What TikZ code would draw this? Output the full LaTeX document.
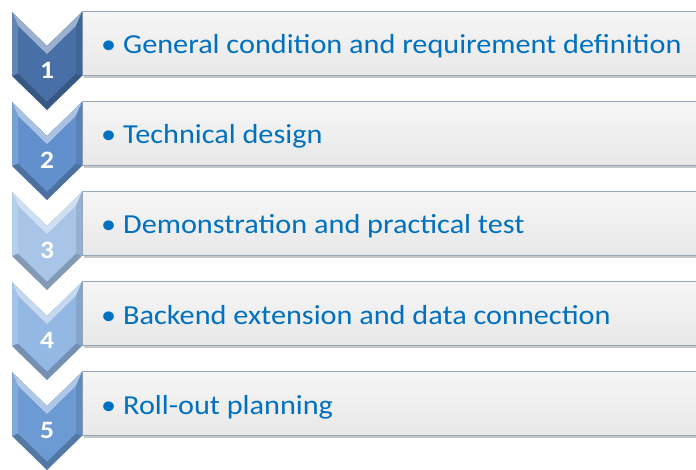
\documentclass[tikz,border=0pt]{standalone}
\usepackage{fontspec}
\setmainfont{Carlito}
\definecolor{txt}{RGB}{0,112,192}
\definecolor{cA}{RGB}{72,112,166}
\definecolor{cB}{RGB}{98,144,204}
\definecolor{cC}{RGB}{168,197,232}
\definecolor{cD}{RGB}{148,184,228}
\definecolor{cE}{RGB}{108,154,210}
\definecolor{boxtop}{RGB}{246,246,246}
\definecolor{boxbot}{RGB}{232,232,232}
\definecolor{boxline}{RGB}{150,166,186}
\begin{document}
\begin{tikzpicture}[x=1pt,y=-1pt]
\tikzset{
  boxshape/.style={rectangle, minimum width=640pt, minimum height=64pt, anchor=north west, inner sep=0pt,
    top color=boxtop, bottom color=boxbot, draw=boxline, line width=0.9pt},
  boxshadow/.style={fill=black!22, draw=none},
  itemtext/.style={anchor=base west, text=txt, font=\fontsize{27.5}{32}\selectfont, inner sep=0pt},
  numtext/.style={anchor=base, text=white, font=\bfseries\fontsize{25}{30}\selectfont, inner sep=0pt},
}
\useasboundingbox (0,0) rectangle (696,470);
\clip (0,0) rectangle (696,470);
\foreach \i/\col/\lab/\txt in {0/cA/1/General condition and requirement definition,
                               1/cB/2/Technical design,
                               2/cC/3/Demonstration and practical test,
                               3/cD/4/Backend extension and data connection,
                               4/cE/5/Roll-out planning}{
  % box with shadow
  \fill[boxshadow] (84,{13+90*\i}) rectangle (740,{78+90*\i});
  \node[boxshape] (b\lab) at (82,{11+90*\i}) {};
  \node[itemtext] (u\lab) at (101,{54+90*\i}) {\scalebox{1.1}[1]{•}};
  \node[itemtext] (t\lab) at (123,{54+90*\i}) {\scalebox{1.1}[1]{\txt}};
  % chevron
  \begin{scope}[shift={(12,{12+90*\i})}]
    \fill[\col!78!black] (0,0) -- (35,34) -- (70,0) -- (70,64) -- (35,98) -- (0,64) -- cycle;
    \fill[\col!55!white] (0,0) -- (35,34) -- (70,0) -- (64,14.2) -- (35,42.4) -- (6,14.2) -- cycle;
    \fill[\col!85!white] (0,0) -- (6,14.2) -- (6,61.4) -- (0,64) -- cycle;
    \fill[\col!90!black] (70,0) -- (64,14.2) -- (64,61.4) -- (70,64) -- cycle;
    \fill[\col] (6,14.2) -- (35,42.4) -- (64,14.2) -- (64,61.4) -- (35,89.6) -- (6,61.4) -- cycle;
    \node[numtext] (n\lab) at (35,66.5) {\scalebox{1.1}[1]{\lab}};
  \end{scope}
}
\end{tikzpicture}
\end{document}
